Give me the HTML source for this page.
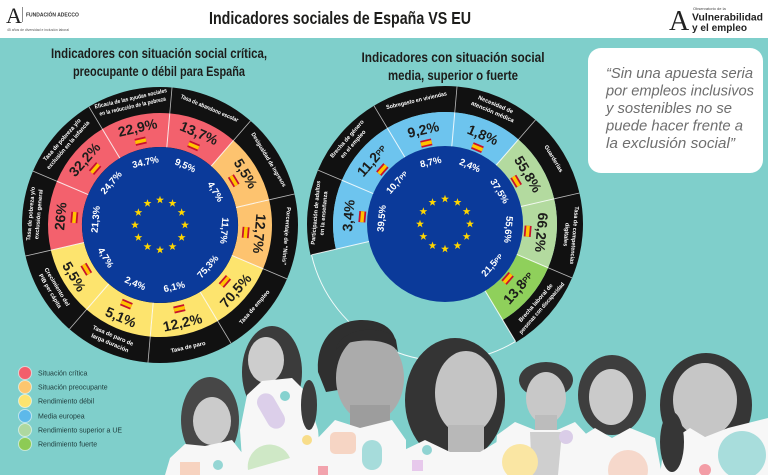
<!DOCTYPE html>
<html><head><meta charset="utf-8"><style>
html,body{margin:0;padding:0;background:#7FCFCB;}
svg{display:block;}
.v{font-family:"Liberation Sans",sans-serif;font-weight:bold;font-size:14px;fill:#1d1d1b;text-anchor:middle;dominant-baseline:central;}
.e{font-family:"Liberation Sans",sans-serif;font-weight:bold;font-size:9.5px;fill:#fff;text-anchor:middle;dominant-baseline:central;}
.l{font-family:"Liberation Sans",sans-serif;font-weight:bold;font-size:5.8px;fill:#fff;text-anchor:middle;dominant-baseline:central;}
.h{font-family:"Liberation Sans",sans-serif;font-weight:bold;fill:#1d1d1b;text-anchor:middle;}
.q{font-family:"Liberation Sans",sans-serif;font-style:italic;font-size:15px;fill:#6e6e6e;}
.lg{font-family:"Liberation Sans",sans-serif;font-size:7px;fill:#1e3b3b;}
</style></head><body>
<svg width="768" height="475" viewBox="0 0 768 475" xmlns="http://www.w3.org/2000/svg">
<defs>
<path id="star" d="M0,-4.2 L0.987,-1.359 L3.994,-1.298 L1.598,0.519 L2.469,3.398 L0,1.68 L-2.469,3.398 L-1.598,0.519 L-3.994,-1.298 L-0.987,-1.359 Z" fill="#FFD600"/>
<g id="flag"><rect x="-5.5" y="-3.5" width="11" height="7" fill="#C8102E"/><rect x="-5.5" y="-1.75" width="11" height="3.5" fill="#FFC400"/></g>
<path id="seg" d="M -34.610 -106.518 A 112 112 0 0 1 34.610 -106.518 L 24.103 -74.182 A 78 78 0 0 0 -24.103 -74.182 Z"/>
<path id="blk" d="M -42.644 -131.246 A 138 138 0 0 1 42.644 -131.246 L 34.610 -106.518 A 112 112 0 0 0 -34.610 -106.518 Z"/>
<g id="stars">
<use href="#star" transform="rotate(0) translate(0,-25) rotate(0)"/>
<use href="#star" transform="rotate(30) translate(0,-25) rotate(-30)"/>
<use href="#star" transform="rotate(60) translate(0,-25) rotate(-60)"/>
<use href="#star" transform="rotate(90) translate(0,-25) rotate(-90)"/>
<use href="#star" transform="rotate(120) translate(0,-25) rotate(-120)"/>
<use href="#star" transform="rotate(150) translate(0,-25) rotate(-150)"/>
<use href="#star" transform="rotate(180) translate(0,-25) rotate(-180)"/>
<use href="#star" transform="rotate(210) translate(0,-25) rotate(-210)"/>
<use href="#star" transform="rotate(240) translate(0,-25) rotate(-240)"/>
<use href="#star" transform="rotate(270) translate(0,-25) rotate(-270)"/>
<use href="#star" transform="rotate(300) translate(0,-25) rotate(-300)"/>
<use href="#star" transform="rotate(330) translate(0,-25) rotate(-330)"/>
</g>
</defs>

<rect width="768" height="475" fill="#7FCFCB"/>
<rect width="768" height="38" fill="#ffffff"/>

<!-- Header left logo -->
<text x="6" y="23" font-family="Liberation Serif" font-size="22" fill="#222">A</text>
<line x1="22.5" y1="7" x2="22.5" y2="22" stroke="#444" stroke-width="0.6"/>
<text x="26" y="16.5" font-family="Liberation Sans" font-weight="bold" font-size="5" fill="#333">FUNDACIÓN ADECCO</text>
<text x="7" y="31" font-family="Liberation Sans" font-size="3.6" fill="#555" textLength="62" lengthAdjust="spacingAndGlyphs">45 años de diversidad e inclusión laboral</text>

<!-- Title -->
<text class="h" x="340" y="24" font-size="17.5" textLength="262" lengthAdjust="spacingAndGlyphs">Indicadores sociales de España VS EU</text>

<!-- Header right logo -->
<text x="669" y="30" font-family="Liberation Serif" font-size="28" fill="#222">A</text>
<text x="693" y="10" font-family="Liberation Sans" font-size="4" fill="#444">Observatorio de la</text>
<text x="692" y="20.5" font-family="Liberation Sans" font-weight="bold" font-size="10.5" fill="#222" textLength="71" lengthAdjust="spacingAndGlyphs">Vulnerabilidad</text>
<text x="692" y="31" font-family="Liberation Sans" font-weight="bold" font-size="10.5" fill="#222" textLength="55" lengthAdjust="spacingAndGlyphs">y el empleo</text>

<!-- Subtitles -->
<text class="h" x="159" y="58" font-size="13.5" textLength="216" lengthAdjust="spacingAndGlyphs">Indicadores con situación social crítica,</text>
<text class="h" x="159" y="76" font-size="13.5" textLength="172" lengthAdjust="spacingAndGlyphs">preocupante o débil para España</text>
<text class="h" x="453" y="62" font-size="13.5" textLength="183" lengthAdjust="spacingAndGlyphs">Indicadores con situación social</text>
<text class="h" x="453" y="80" font-size="13.5" textLength="130" lengthAdjust="spacingAndGlyphs">media, superior o fuerte</text>

<!-- Quote -->
<rect x="588" y="48" width="175" height="125" rx="13" fill="#ffffff"/>
<text class="q" x="606" y="78" textLength="147" lengthAdjust="spacingAndGlyphs">“Sin una apuesta seria</text>
<text class="q" x="606" y="95.5" textLength="148" lengthAdjust="spacingAndGlyphs">por empleos inclusivos</text>
<text class="q" x="606" y="113" textLength="126" lengthAdjust="spacingAndGlyphs">y sostenibles no se</text>
<text class="q" x="606" y="130.5" textLength="137" lengthAdjust="spacingAndGlyphs">puede hacer frente a</text>
<text class="q" x="606" y="148" textLength="129" lengthAdjust="spacingAndGlyphs">la exclusión social”</text>

<!-- LEFT DONUT -->
<g transform="translate(160,225)">
<circle r="138" fill="#111"/>
<use href="#seg" fill="#F3616D" transform="rotate(347)"/>
<use href="#seg" fill="#F3616D" transform="rotate(23)"/>
<use href="#seg" fill="#FDC36F" transform="rotate(59)"/>
<use href="#seg" fill="#FDC36F" transform="rotate(95)"/>
<use href="#seg" fill="#FDE46E" transform="rotate(131)"/>
<use href="#seg" fill="#FDE46E" transform="rotate(167)"/>
<use href="#seg" fill="#FDE46E" transform="rotate(203)"/>
<use href="#seg" fill="#FDE46E" transform="rotate(239)"/>
<use href="#seg" fill="#F3616D" transform="rotate(275)"/>
<use href="#seg" fill="#F3616D" transform="rotate(311)"/>
<circle r="78" fill="#0B3A9A"/>
<g stroke="#ffffff" stroke-width="1" opacity="0.85">
<line x1="0" y1="-78" x2="0" y2="-112" transform="rotate(5)"/>
<line x1="0" y1="-78" x2="0" y2="-112" transform="rotate(41)"/>
<line x1="0" y1="-78" x2="0" y2="-112" transform="rotate(77)"/>
<line x1="0" y1="-78" x2="0" y2="-112" transform="rotate(113)"/>
<line x1="0" y1="-78" x2="0" y2="-112" transform="rotate(149)"/>
<line x1="0" y1="-78" x2="0" y2="-112" transform="rotate(185)"/>
<line x1="0" y1="-78" x2="0" y2="-112" transform="rotate(221)"/>
<line x1="0" y1="-78" x2="0" y2="-112" transform="rotate(257)"/>
<line x1="0" y1="-78" x2="0" y2="-112" transform="rotate(293)"/>
<line x1="0" y1="-78" x2="0" y2="-112" transform="rotate(329)"/>
</g>
<g stroke="#bbbbbb" stroke-width="0.8">
<line x1="0" y1="-112" x2="0" y2="-138" transform="rotate(5)"/>
<line x1="0" y1="-112" x2="0" y2="-138" transform="rotate(41)"/>
<line x1="0" y1="-112" x2="0" y2="-138" transform="rotate(77)"/>
<line x1="0" y1="-112" x2="0" y2="-138" transform="rotate(113)"/>
<line x1="0" y1="-112" x2="0" y2="-138" transform="rotate(149)"/>
<line x1="0" y1="-112" x2="0" y2="-138" transform="rotate(185)"/>
<line x1="0" y1="-112" x2="0" y2="-138" transform="rotate(221)"/>
<line x1="0" y1="-112" x2="0" y2="-138" transform="rotate(257)"/>
<line x1="0" y1="-112" x2="0" y2="-138" transform="rotate(293)"/>
<line x1="0" y1="-112" x2="0" y2="-138" transform="rotate(329)"/>
</g>
<use href="#stars"/>

<g transform="rotate(347)">
<text class="v" transform="translate(0,-100)">22,9%</text>
<use href="#flag" transform="translate(0,-86)"/>
<text class="e" transform="translate(0,-64)">34.7%</text>
<text class="l" transform="translate(0,-129)" textLength="74" lengthAdjust="spacingAndGlyphs">Eficacia de las ayudas sociales</text>
<text class="l" transform="translate(0,-121)" textLength="68" lengthAdjust="spacingAndGlyphs">en la reducción de la pobreza</text>
</g>
<g transform="rotate(23)">
<text class="v" transform="translate(0,-100)">13,7%</text>
<use href="#flag" transform="translate(0,-86)"/>
<text class="e" transform="translate(0,-64)">9,5%</text>
<text class="l" transform="translate(0,-126)" textLength="62" lengthAdjust="spacingAndGlyphs">Tasa de abandono escolar</text>
</g>
<g transform="rotate(59)">
<text class="v" transform="translate(0,-100)">5,5%</text>
<use href="#flag" transform="translate(0,-86)"/>
<text class="e" transform="translate(0,-64)">4,7%</text>
<text class="l" transform="translate(0,-126)" textLength="62" lengthAdjust="spacingAndGlyphs">Desigualdad de ingresos</text>
</g>
<g transform="rotate(95)">
<text class="v" transform="translate(0,-100)">12,7%</text>
<use href="#flag" transform="translate(0,-86)"/>
<text class="e" transform="translate(0,-64)">11,7%</text>
<text class="l" transform="translate(0,-126)" textLength="58" lengthAdjust="spacingAndGlyphs">Porcentaje de “Ninis”</text>
</g>
<g transform="rotate(131)">
<text class="v" transform="translate(0,-100) rotate(180)">70,5%</text>
<use href="#flag" transform="translate(0,-86)"/>
<text class="e" transform="translate(0,-64) rotate(180)">75,3%</text>
<text class="l" transform="translate(0,-126) rotate(180)">Tasa de empleo</text>
</g>
<g transform="rotate(167)">
<text class="v" transform="translate(0,-100) rotate(180)">12,2%</text>
<use href="#flag" transform="translate(0,-86)"/>
<text class="e" transform="translate(0,-64) rotate(180)">6,1%</text>
<text class="l" transform="translate(0,-126) rotate(180)">Tasa de paro</text>
</g>
<g transform="rotate(203)">
<text class="v" transform="translate(0,-100) rotate(180)">5,1%</text>
<use href="#flag" transform="translate(0,-86)"/>
<text class="e" transform="translate(0,-64) rotate(180)">2,4%</text>
<text class="l" transform="translate(0,-121) rotate(180)">Tasa de paro de</text>
<text class="l" transform="translate(0,-129) rotate(180)">larga duración</text>
</g>
<g transform="rotate(239)">
<text class="v" transform="translate(0,-100) rotate(180)">5,5%</text>
<use href="#flag" transform="translate(0,-86)"/>
<text class="e" transform="translate(0,-64) rotate(180)">4,7%</text>
<text class="l" transform="translate(0,-121) rotate(180)">Crecimiento del</text>
<text class="l" transform="translate(0,-129) rotate(180)">PIB per cápita</text>
</g>
<g transform="rotate(275)">
<text class="v" transform="translate(0,-100)">26%</text>
<use href="#flag" transform="translate(0,-86)"/>
<text class="e" transform="translate(0,-64)">21,3%</text>
<text class="l" transform="translate(0,-129)" textLength="54" lengthAdjust="spacingAndGlyphs">Tasa de pobreza y/o</text>
<text class="l" transform="translate(0,-121)" textLength="50" lengthAdjust="spacingAndGlyphs">exclusión general</text>
</g>
<g transform="rotate(311)">
<text class="v" transform="translate(0,-100)">32,2%</text>
<use href="#flag" transform="translate(0,-86)"/>
<text class="e" transform="translate(0,-64)">24,7%</text>
<text class="l" transform="translate(0,-129)" textLength="54" lengthAdjust="spacingAndGlyphs">Tasa de pobreza y/o</text>
<text class="l" transform="translate(0,-121)" textLength="62" lengthAdjust="spacingAndGlyphs">exclusión en la infancia</text>
</g>
</g>

<!-- RIGHT DONUT -->
<g transform="translate(445,224)">
<path d="M -110.835 -80.527 A 137 137 0 0 1 110.835 -80.527" fill="none" stroke="#ffffff" stroke-width="1" opacity="0.9" transform="rotate(203)"/>
<use href="#blk" fill="#111" transform="rotate(347)"/>
<use href="#blk" fill="#111" transform="rotate(23)"/>
<use href="#blk" fill="#111" transform="rotate(59)"/>
<use href="#blk" fill="#111" transform="rotate(95)"/>
<use href="#blk" fill="#111" transform="rotate(131)"/>
<use href="#blk" fill="#111" transform="rotate(275)"/>
<use href="#blk" fill="#111" transform="rotate(311)"/>
<use href="#seg" fill="#6DC4EE" transform="rotate(347)"/>
<use href="#seg" fill="#6DC4EE" transform="rotate(23)"/>
<use href="#seg" fill="#B3DA9F" transform="rotate(59)"/>
<use href="#seg" fill="#B3DA9F" transform="rotate(95)"/>
<use href="#seg" fill="#8FD05B" transform="rotate(131)"/>
<use href="#seg" fill="#6DC4EE" transform="rotate(275)"/>
<use href="#seg" fill="#6DC4EE" transform="rotate(311)"/>
<circle r="78" fill="#0B3A9A"/>
<g stroke="#ffffff" stroke-width="1" opacity="0.85">
<line x1="0" y1="-78" x2="0" y2="-112" transform="rotate(5)"/>
<line x1="0" y1="-78" x2="0" y2="-112" transform="rotate(41)"/>
<line x1="0" y1="-78" x2="0" y2="-112" transform="rotate(77)"/>
<line x1="0" y1="-78" x2="0" y2="-112" transform="rotate(113)"/>
<line x1="0" y1="-78" x2="0" y2="-137" transform="rotate(149)"/>
<line x1="0" y1="-78" x2="0" y2="-137" transform="rotate(257)"/>
<line x1="0" y1="-78" x2="0" y2="-112" transform="rotate(293)"/>
<line x1="0" y1="-78" x2="0" y2="-112" transform="rotate(329)"/>
</g>
<g stroke="#bbbbbb" stroke-width="0.8">
<line x1="0" y1="-112" x2="0" y2="-138" transform="rotate(5)"/>
<line x1="0" y1="-112" x2="0" y2="-138" transform="rotate(41)"/>
<line x1="0" y1="-112" x2="0" y2="-138" transform="rotate(77)"/>
<line x1="0" y1="-112" x2="0" y2="-138" transform="rotate(113)"/>
<line x1="0" y1="-112" x2="0" y2="-138" transform="rotate(293)"/>
<line x1="0" y1="-112" x2="0" y2="-138" transform="rotate(329)"/>
</g>
<use href="#stars"/>

<g transform="rotate(347)">
<text class="v" transform="translate(0,-97)">9,2%</text>
<use href="#flag" transform="translate(0,-83)"/>
<text class="e" transform="translate(0,-63)">8,7%</text>
<text class="l" transform="translate(0,-126)" textLength="62" lengthAdjust="spacingAndGlyphs">Sobregasto en viviendas</text>
</g>
<g transform="rotate(23)">
<text class="v" transform="translate(0,-97)">1,8%</text>
<use href="#flag" transform="translate(0,-83)"/>
<text class="e" transform="translate(0,-63)">2,4%</text>
<text class="l" transform="translate(0,-129)">Necesidad de</text>
<text class="l" transform="translate(0,-121)" textLength="46" lengthAdjust="spacingAndGlyphs">atención médica</text>
</g>
<g transform="rotate(59)">
<text class="v" transform="translate(0,-97)">55,8%</text>
<use href="#flag" transform="translate(0,-83)"/>
<text class="e" transform="translate(0,-63)">37,5%</text>
<text class="l" transform="translate(0,-126)">Guarderías</text>
</g>
<g transform="rotate(95)">
<text class="v" transform="translate(0,-97)">66,2%</text>
<use href="#flag" transform="translate(0,-83)"/>
<text class="e" transform="translate(0,-63)">55,6%</text>
<text class="l" transform="translate(0,-129)" textLength="58" lengthAdjust="spacingAndGlyphs">Tasa de competencias</text>
<text class="l" transform="translate(0,-121)">digitales</text>
</g>
<g transform="rotate(131)">
<text class="v" transform="translate(0,-97) rotate(180)">13,8<tspan font-size="8">PP</tspan></text>
<use href="#flag" transform="translate(0,-83)"/>
<text class="e" transform="translate(0,-63) rotate(180)">21,5<tspan font-size="6.5">PP</tspan></text>
<text class="l" transform="translate(0,-121) rotate(180)">Brecha laboral de</text>
<text class="l" transform="translate(0,-129) rotate(180)" textLength="66" lengthAdjust="spacingAndGlyphs">personas con discapacidad</text>
</g>
<g transform="rotate(275)">
<text class="v" transform="translate(0,-97)">3,4%</text>
<use href="#flag" transform="translate(0,-83)"/>
<text class="e" transform="translate(0,-63)">39,5%</text>
<text class="l" transform="translate(0,-129)" textLength="64" lengthAdjust="spacingAndGlyphs">Participación de adultos</text>
<text class="l" transform="translate(0,-121)" textLength="44" lengthAdjust="spacingAndGlyphs">en la enseñanza</text>
</g>
<g transform="rotate(311)">
<text class="v" transform="translate(0,-97)">11,2<tspan font-size="8">PP</tspan></text>
<use href="#flag" transform="translate(0,-83)"/>
<text class="e" transform="translate(0,-63)">10,7<tspan font-size="6.5">PP</tspan></text>
<text class="l" transform="translate(0,-129)" textLength="48" lengthAdjust="spacingAndGlyphs">Brecha de género</text>
<text class="l" transform="translate(0,-121)">en el empleo</text>
</g>
</g>

<!-- Legend -->
<g stroke="rgba(255,255,255,0.55)" stroke-width="1">
<circle cx="25" cy="373" r="6.5" fill="#F35E6B"/>
<circle cx="25" cy="387" r="6.5" fill="#FCC66E"/>
<circle cx="25" cy="401" r="6.5" fill="#FCE46F"/>
<circle cx="25" cy="416" r="6.5" fill="#5DB9EA"/>
<circle cx="25" cy="430" r="6.5" fill="#AED8A0"/>
<circle cx="25" cy="444" r="6.5" fill="#8DCB55"/>
</g>
<text class="lg" x="38" y="375.5">Situación crítica</text>
<text class="lg" x="38" y="389.5">Situación preocupante</text>
<text class="lg" x="38" y="403.5">Rendimiento débil</text>
<text class="lg" x="38" y="418.5">Media europea</text>
<text class="lg" x="38" y="432.5">Rendimiento superior a UE</text>
<text class="lg" x="38" y="446.5">Rendimiento fuerte</text>

<!-- People -->
<!-- girl 1 -->
<ellipse cx="210" cy="420" rx="29" ry="43" fill="#474747"/>
<ellipse cx="212" cy="421" rx="19" ry="24" fill="#cbcbcb"/>
<path d="M165 475 L170 458 L185 444 L205 446 L232 440 L246 458 L248 475 Z" fill="#f7f7f7"/>
<rect x="180" y="462" width="20" height="13" fill="#F7D3C0"/>
<circle cx="218" cy="465" r="5" fill="#95D6D4"/>
<!-- girl 2 -->
<ellipse cx="272" cy="372" rx="30" ry="46" fill="#3b3b3b"/>
<ellipse cx="266" cy="360" rx="18" ry="23" fill="#cdcdcd"/>
<path d="M243 475 L240 430 L247 395 L262 381 L292 378 L306 392 L318 430 L322 475 Z" fill="#f7f7f7"/>
<ellipse cx="309" cy="405" rx="8" ry="25" fill="#3b3b3b"/>
<rect x="262" y="392" width="18" height="38" rx="9" fill="#DCCFEA" transform="rotate(-30 271 411)"/>
<path d="M248 470 A22 22 0 0 1 290 458 Z" fill="#CFE8C6"/>
<circle cx="285" cy="396" r="5" fill="#86D2CF"/>
<circle cx="307" cy="440" r="5" fill="#F8DD8A"/>
<!-- man -->
<path d="M318 372 C316 340 335 320 362 320 C385 320 398 332 396 350 L345 352 L338 390 L326 392 Z" fill="#2f2f2f"/>
<ellipse cx="370" cy="378" rx="34" ry="44" fill="#ababab"/>
<path d="M336 350 C345 338 390 336 398 352 L396 340 C390 325 340 325 336 350 Z" fill="#2f2f2f"/>
<rect x="350" y="405" width="40" height="25" fill="#9d9d9d"/>
<path d="M314 475 L316 440 L335 420 L360 428 L392 420 L406 440 L406 475 Z" fill="#f7f7f7"/>
<rect x="330" y="432" width="26" height="22" rx="5" fill="#F6D5C4"/>
<rect x="362" y="440" width="20" height="30" rx="10" fill="#A6DCDB"/>
<rect x="318" y="466" width="10" height="9" fill="#F2A3AD"/>
<!-- woman center -->
<ellipse cx="455" cy="400" rx="50" ry="62" fill="#343434"/>
<ellipse cx="466" cy="393" rx="31" ry="42" fill="#c4c4c4"/>
<rect x="448" y="425" width="36" height="30" fill="#b8b8b8"/>
<path d="M396 475 L400 452 L425 440 L450 452 L480 452 L500 440 L508 475 Z" fill="#f7f7f7"/>
<rect x="412" y="460" width="11" height="11" fill="#E7C9EC"/>
<circle cx="427" cy="450" r="5" fill="#8FD3D2"/>
<!-- young man -->
<ellipse cx="546" cy="380" rx="27" ry="18" fill="#3c3c3c"/>
<ellipse cx="546" cy="398" rx="20" ry="26" fill="#c8c8c8"/>
<rect x="535" y="415" width="22" height="20" fill="#bcbcbc"/>
<path d="M494 475 L497 435 L515 422 L535 430 L557 430 L575 422 L590 438 L590 475 Z" fill="#f7f7f7"/>
<path d="M530 432 L562 432 L558 475 L532 475 Z" fill="#cfcfcf"/>
<circle cx="520" cy="462" r="18" fill="#FAE6A3"/>
<circle cx="566" cy="437" r="7" fill="#DACDE8"/>
<path d="M575 452 L575 475 L598 475 Z" fill="#CBE7C0"/>
<!-- woman 6 -->
<ellipse cx="612" cy="395" rx="34" ry="40" fill="#3e3e3e"/>
<ellipse cx="611" cy="397" rx="22" ry="28" fill="#cacaca"/>
<path d="M572 475 L576 440 L595 428 L612 438 L630 428 L655 438 L662 475 Z" fill="#f7f7f7"/>
<circle cx="628" cy="470" r="20" fill="#F6D8CB"/>
<!-- woman 7 -->
<ellipse cx="706" cy="405" rx="46" ry="52" fill="#363636"/>
<ellipse cx="705" cy="400" rx="32" ry="37" fill="#c6c6c6"/>
<path d="M660 475 L664 445 L690 428 L705 437 L728 428 L768 418 L768 475 Z" fill="#f7f7f7"/>
<ellipse cx="672" cy="442" rx="12" ry="30" fill="#363636"/>
<circle cx="742" cy="455" r="24" fill="#A8DDDC"/>
<circle cx="705" cy="470" r="6" fill="#F39DA6"/>
</svg>
</body></html>
